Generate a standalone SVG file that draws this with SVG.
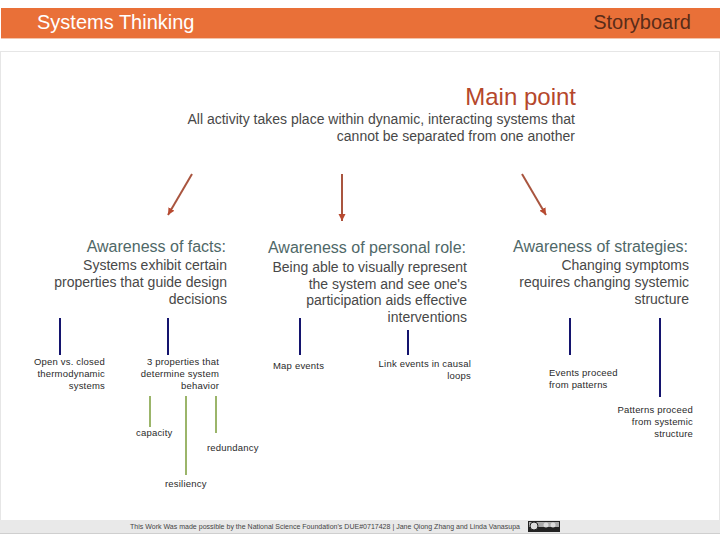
<svg xmlns="http://www.w3.org/2000/svg" width="720" height="540" viewBox="0 0 720 540">
<style>
text{font-family:"Liberation Sans",Arial,sans-serif;fill:#333}
.b{font-size:14px;fill:#484848}
.head{font-size:16px;fill:#4f6868}
.s{font-size:9.5px;letter-spacing:.2px;fill:#2a2a2a}
.r{text-anchor:end}
.red{stroke:#a9553f;stroke-width:2;fill:none;marker-end:url(#a)}
.navy{stroke:#14146e;stroke-width:2}
.green{stroke:#9bb56a;stroke-width:2}
</style>
<defs>
<marker id="a" markerUnits="userSpaceOnUse" markerWidth="10" markerHeight="10" refX="7" refY="3.5" orient="auto"><path d="M0 0L7 3.5L0 7Z" fill="#b84a30"/></marker>
</defs>
<rect width="720" height="540" fill="#fff"/>
<g id="frame"><rect x="0.5" y="51.5" width="719" height="470" fill="#fff" stroke="#e6e6e6"/></g>
<g id="header"><rect x="1" y="8" width="719" height="30" fill="#e97038"/><rect x="1" y="38" width="719" height="1" fill="#f3c4ac"/>
<text x="37" y="29" font-size="20" style="fill:#fff">Systems Thinking</text>
<text x="691" y="29" font-size="20" class="r" style="fill:#5a2c18">Storyboard</text></g>
<g id="main-point"><text x="576" y="105" font-size="24" class="r" style="fill:#b5472b">Main point</text>
<text x="575" y="124" class="b r">All activity takes place within dynamic, interacting systems that</text>
<text x="575" y="141" class="b r">cannot be separated from one another</text></g>
<g id="connectors">
<line class="red" x1="192" y1="174" x2="168" y2="215"/>
<line class="red" x1="342" y1="174" x2="342" y2="221"/>
<line class="red" x1="522" y1="174" x2="546" y2="215"/>
<line class="navy" x1="60" y1="318" x2="60" y2="355"/>
<line class="navy" x1="168" y1="318" x2="168" y2="355"/>
<line class="navy" x1="300" y1="318" x2="300" y2="355"/>
<line class="navy" x1="408" y1="330" x2="408" y2="355"/>
<line class="navy" x1="570" y1="318" x2="570" y2="355"/>
<line class="navy" x1="660" y1="318" x2="660" y2="397"/>
<line class="green" x1="150" y1="396" x2="150" y2="427"/>
<line class="green" x1="186" y1="396" x2="186" y2="475"/>
<line class="green" x1="216" y1="396" x2="216" y2="433"/>
</g>
<g id="facts"><text x="226" y="252" class="head r">Awareness of facts:</text>
<text x="227" y="270" class="b r">Systems exhibit certain</text>
<text x="227" y="287" class="b r">properties that guide design</text>
<text x="227" y="304" class="b r">decisions</text></g>
<g id="role"><text x="466" y="253" class="head r">Awareness of personal role:</text>
<text x="467" y="272" class="b r">Being able to visually represent</text>
<text x="467" y="289" class="b r">the system and see one's</text>
<text x="467" y="305" class="b r">participation aids effective</text>
<text x="467" y="322" class="b r">interventions</text></g>
<g id="strategies"><text x="688" y="252" class="head r">Awareness of strategies:</text>
<text x="689" y="270" class="b r">Changing symptoms</text>
<text x="689" y="287" class="b r">requires changing systemic</text>
<text x="689" y="304" class="b r">structure</text></g>
<g id="open"><text x="105" y="365" class="s r">Open vs. closed</text><text x="105" y="377" class="s r">thermodynamic</text><text x="105" y="389" class="s r">systems</text></g>
<g id="props"><text x="219" y="365" class="s r">3 properties that</text><text x="219" y="377" class="s r">determine system</text><text x="219" y="389" class="s r">behavior</text></g>
<g id="capacity"><text x="136" y="436" class="s">capacity</text></g>
<g id="redundancy"><text x="207" y="451" class="s">redundancy</text></g>
<g id="resiliency"><text x="165" y="487" class="s">resiliency</text></g>
<g id="map"><text x="273" y="369" class="s">Map events</text></g>
<g id="link"><text x="471" y="367" class="s r">Link events in causal</text><text x="471" y="379" class="s r">loops</text></g>
<g id="events"><text x="549" y="376" class="s">Events proceed</text><text x="549" y="388" class="s">from patterns</text></g>
<g id="patterns"><text x="693" y="413" class="s r">Patterns proceed</text><text x="693" y="425" class="s r">from systemic</text><text x="693" y="437" class="s r">structure</text></g>
<g id="footer"><rect x="0" y="520" width="720" height="14" fill="#e9e9e9"/><rect x="0" y="533" width="720" height="1" fill="#cfcfcf"/>
<text x="130" y="529" font-size="7" textLength="390" lengthAdjust="spacing" style="fill:#444">This Work Was made possible by the National Science Foundation's DUE#0717428 | Jane Qiong Zhang and Linda Vanasupa</text>
<rect x="528" y="521" width="32" height="11" fill="#222"/><rect x="529" y="522" width="30" height="5" fill="#aaa"/><circle cx="534" cy="526" r="4" fill="#ddd" stroke="#222"/>
<circle cx="546" cy="525" r="2.5" fill="#ddd"/><circle cx="553" cy="525" r="2.5" fill="#ddd"/></g>
</svg>
